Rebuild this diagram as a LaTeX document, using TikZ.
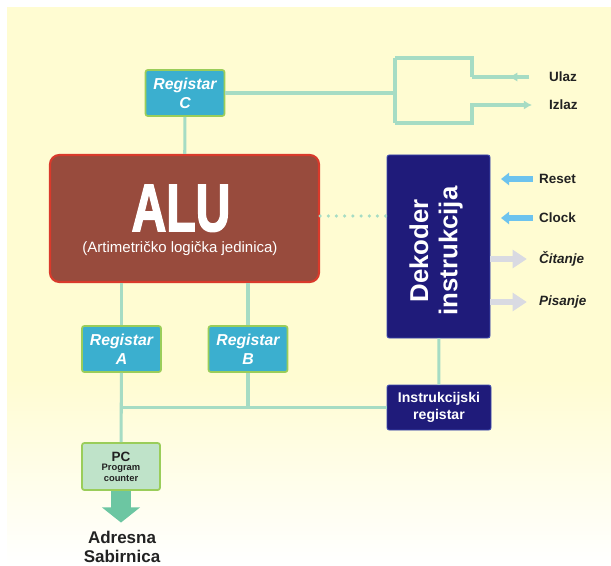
\documentclass[tikz,border=0pt]{standalone}
\usepackage{fontspec}
\setmainfont{Liberation Sans}
\newfontface\alufont[FakeBold=2.5]{Liberation Sans Bold}
\usetikzlibrary{arrows.meta,decorations.markings,positioning}
\definecolor{bgyel}{HTML}{FFFCD2}
\definecolor{wirecol}{HTML}{A6DCC4}
\definecolor{regfill}{HTML}{3BAFCF}
\definecolor{regedge}{HTML}{9ACD5A}
\definecolor{alufill}{HTML}{984B3D}
\definecolor{aluedge}{HTML}{D93A2B}
\definecolor{dekfill}{HTML}{1F1B7A}
\definecolor{dekedge}{HTML}{3E4BB0}
\definecolor{pcfill}{HTML}{BFE3C9}
\definecolor{pcarrow}{HTML}{6CC6A2}
\definecolor{clkcol}{HTML}{6DC3EE}
\definecolor{rwcol}{HTML}{D9DAE2}
\definecolor{txtcol}{HTML}{222222}

\begin{document}
\begin{tikzpicture}[x=0.03cm,y=-0.03cm,
  wire/.style={draw=wirecol,line width=2.6pt},
  reg/.style={draw=regedge,line width=1.5pt,fill=regfill,rounded corners=2pt,
    minimum width=2.37cm,minimum height=1.38cm,inner sep=0pt,align=center,
    text=white,font=\fontsize{13.5}{16}\selectfont\bfseries\itshape},
  darkbox/.style={fill=dekfill,draw=dekedge,line width=0.8pt,rounded corners=2pt,
    inner sep=0pt,align=center,text=white},
  lbl/.style={anchor=west,text=txtcol,font=\fontsize{11.5}{14}\selectfont\bfseries},
  inarrow/.style={draw=clkcol,line width=5.5pt,-{Triangle[length=7pt,width=10.5pt]}},
  outarrow/.style={draw=rwcol,line width=5.5pt,-{Triangle[length=12pt,width=15pt]}}]
  \useasboundingbox (0,0) rectangle (611,566);
  % background
  \fill[bgyel] (7,7) rectangle (611,380);
  \fill[top color=bgyel,bottom color=white] (7,379) rectangle (611,566);

  \node[reg] (regC) at (185,93) {Registar\\C};
  \node[fill=alufill,draw=aluedge,line width=1.8pt,rounded corners=8pt,
    minimum width=8.07cm,minimum height=3.81cm] (alu) at (184.5,218.5) {};
  \node[anchor=base,inner sep=0pt,text=white,font=\fontsize{57}{60}\alufont] (alutitle)
    at (181,231) {\scalebox{0.72}[1]{ALU}};
  \node[anchor=base,inner sep=0pt,text=white,font=\fontsize{12.8}{15}\selectfont] (alusub)
    at (180,253) {(Artimetričko logička jedinica)};
  \node[darkbox,minimum width=3.09cm,minimum height=5.49cm] (dek) at (438.5,246.5) {};
  \node[rotate=90,align=center,text=white,font=\fontsize{22}{25}\selectfont\bfseries]
    (dektext) at (436,251) {Dekoder\\instrukcija};
  \node[reg] (regA) at (121.5,349) {Registar\\A};
  \node[reg] (regB) at (248,349) {Registar\\B};
  \node[darkbox,minimum width=3.12cm,minimum height=1.35cm,
    font=\fontsize{12}{14}\selectfont\bfseries] (ir) at (439,407.5) {Instrukcijski\\registar};
  \node[fill=pcfill,draw=regedge,line width=1.5pt,rounded corners=2pt,
    minimum width=2.34cm,minimum height=1.41cm,inner sep=0pt,align=center,text=txtcol,
    font=\fontsize{8}{9}\selectfont\bfseries] (pc) at (121,466.5)
    {\fontsize{11.5}{12}\selectfont PC\\[-1pt]Program\\counter};
  \node[align=center,inner sep=0pt,text=txtcol,font=\fontsize{14.5}{15.5}\selectfont\bfseries]
    (adr) at (122,547) {Adresna\\Sabirnica};

  \node[lbl] (ulaz) at (545,77) {Ulaz};
  \node[lbl] (izlaz) at (545,105) {Izlaz};
  \node[lbl] (reset) at (535,179) {Reset};
  \node[lbl] (clock) at (535,218) {Clock};
  \node[lbl,font=\fontsize{11.5}{14}\selectfont\bfseries\itshape] (citanje) at (535,259) {Čitanje};
  \node[lbl,font=\fontsize{11.5}{14}\selectfont\bfseries\itshape] (pisanje) at (535,302) {Pisanje};

  % wires
  \coordinate (brk) at (395,93);
  \coordinate (brkT) at (395,58);
  \coordinate (brkB) at (395,123);
  \coordinate (stepU) at (472,77);
  \coordinate (stepI) at (472,105);
  \draw[wire] (regC) -- (alu);
  \draw[wire] (regC.east) -- (brk);
  \draw[wire] (brkT) -- (brkB);
  \draw[wire] (brkT) -| (stepU);
  \draw[wire,postaction={decorate},decoration={markings,
    mark=at position 0.35 with {\arrow[wirecol]{Latex[length=7pt,width=8pt]}}}]
    (ulaz.west) ++(-16,0) -- (stepU);
  \draw[wire,-{Latex[length=7pt,width=8pt]}] (brkB) -| (stepI) -- ++(60,0);
  \draw[wire] (regA.north) -- (regA.north |- alu.south);
  \draw[wire] (regB.north) -- (regB.north |- alu.south);
  \draw[wire] (regA) -- (pc);
  \draw[wire] (ir.west) -- (ir.west -| regA);
  \draw[wire] (regB.south) -- (regB.south |- ir.west);
  \draw[wire] (dek) -- (ir);
  \draw[wirecol,line width=3pt,dash pattern=on 0pt off 7pt,line cap=round]
    (alu.east |- 0,216) -- (dek.west |- 0,216);

  % signal arrows
  \draw[inarrow,shorten <=2pt] (reset.west) -- ([xshift=9pt]reset.west -| dek.east);
  \draw[inarrow,shorten <=2pt] (clock.west) -- ([xshift=9pt]clock.west -| dek.east);
  \draw[outarrow,shorten >=7pt] (dek.east |- citanje) -- (citanje.west);
  \draw[outarrow,shorten >=7pt] (dek.east |- pisanje) -- (pisanje.west);
  \draw[pcarrow,line width=17pt,-{Triangle[length=13pt,width=32pt]}]
    (pc.south) -- ([yshift=-0.95cm]pc.south);
\end{tikzpicture}
\end{document}
